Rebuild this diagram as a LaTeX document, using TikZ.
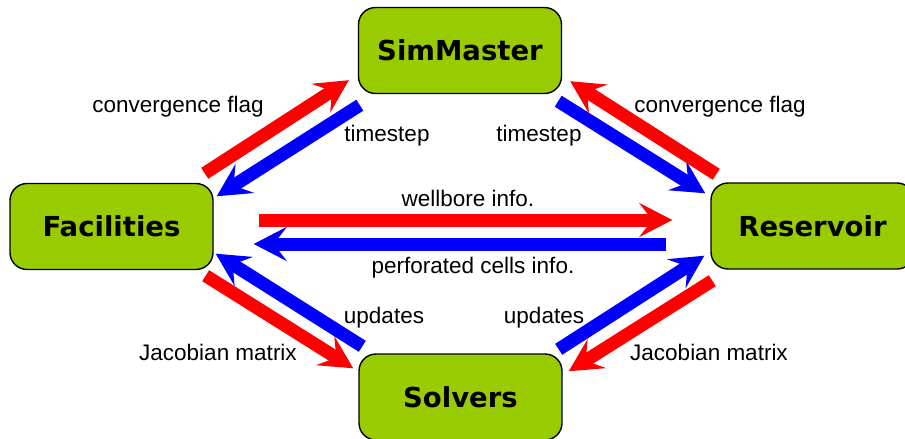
\documentclass[tikz,border=0pt]{standalone}
\usepackage{fontspec}
\setmainfont{Liberation Sans}
\newfontfamily\boxfont{DejaVu Sans}
\usetikzlibrary{arrows.meta}
\definecolor{boxgreen}{HTML}{99CC00}
\definecolor{flowred}{HTML}{FF0000}
\definecolor{flowblue}{HTML}{0000FF}
\tikzset{
  module/.style={draw=black, line width=1.4pt, fill=boxgreen, rounded corners=17pt,
    minimum width=203pt, minimum height=86pt, inner sep=0pt,
    font=\boxfont\bfseries\fontsize{27.5}{31}\selectfont},
  flow/.style={line width=13pt,
    -{Stealth[length=33pt, width=34pt, inset=13pt]}},
  redflow/.style={flow, draw=flowred, color=flowred},
  blueflow/.style={flow, draw=flowblue, color=flowblue},
  lbl/.style={inner sep=0pt, font=\fontsize{22.5}{27}\selectfont}
}
\begin{document}
\begin{tikzpicture}[x=1pt, y=-1pt]
\useasboundingbox (0,0) rectangle (905,439);

% modules
\node[module] (sim) at (460,50.5) {SimMaster};
\node[module] (fac) at (111.5,226.5) {Facilities};
\node[module] (res) at (812.5,226) {Reservoir};
\node[module] (sol) at (460.5,397) {Solvers};

% SimMaster <-> Facilities
\draw[redflow]  ([shift={(-9,-9.5)}]fac.north east) -- ([shift={(-9,-14)}]sim.south west);
\draw[blueflow] ([shift={(2,11)}]sim.south west) -- ([shift={(3,13.5)}]fac.north east);
% SimMaster <-> Reservoir
\draw[blueflow] ([shift={(-4,7)}]sim.south east) -- ([shift={(-5,11)}]res.north west);
\draw[redflow]  ([shift={(6,-8)}]res.north west) -- ([shift={(8,-13)}]sim.south east);
% Facilities <-> Reservoir
\draw[redflow]  ([shift={(45,-6.5)}]fac.east) -- ([shift={(-38,-6)}]res.west);
\draw[blueflow] ([shift={(-44,18)}]res.west) -- ([shift={(40,17.5)}]fac.east);
% Facilities <-> Solvers
\draw[redflow]  ([shift={(-8,5.5)}]fac.south east) -- ([shift={(-5,15)}]sol.north west);
\draw[blueflow] ([shift={(4,-7)}]sol.north west) -- ([shift={(2,-16.5)}]fac.south east);
% Reservoir <-> Solvers
\draw[blueflow] ([shift={(-4,-4)}]sol.north east) -- ([shift={(-6,-14)}]res.south west);
\draw[redflow]  ([shift={(2,11)}]res.south west) -- ([shift={(6,18)}]sol.north east);

% labels
\node[lbl] (l1) at (178,107) {convergence flag};
\node[lbl] (l2) at (387,136) {timestep};
\node[lbl] (l3) at (539,136) {timestep};
\node[lbl] (l4) at (720,107) {convergence flag};
\node[lbl] (l5) at (468,198) {wellbore info.};
\node[lbl] (l6) at (473,268) {perforated cells info.};
\node[lbl] (l7) at (384,318) {updates};
\node[lbl] (l8) at (544,318) {updates};
\node[lbl] (l9) at (218,352) {Jacobian matrix};
\node[lbl] (l10) at (709,352) {Jacobian matrix};
\end{tikzpicture}
\end{document}
